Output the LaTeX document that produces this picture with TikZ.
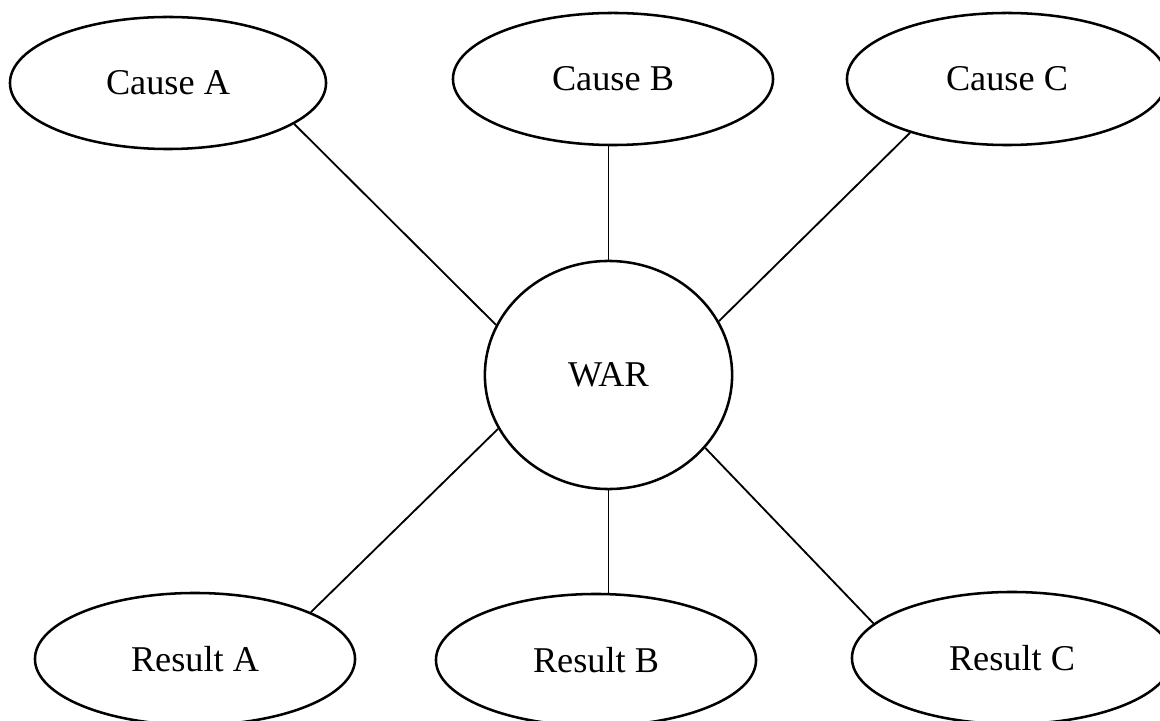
\documentclass[tikz,border=0pt]{standalone}
\usepackage{fontspec}
\setmainfont{Liberation Serif}
\usetikzlibrary{shapes.geometric}

\tikzset{
  oval/.style={draw,ellipse,line width=1.8pt,inner sep=0pt,minimum height=3.3cm,
    font=\fontsize{25.8}{30}\selectfont},
  link/.style={line width=1.3pt}
}

\begin{document}
\begin{tikzpicture}[x=0.025cm,y=-0.025cm]
\useasboundingbox (0,0) rectangle (1160,721);
\foreach \name/\x/\y/\w in {A/168/83/7.9,B/613/79/8,C/1007/79/8}{
      \node[oval,minimum width=\w cm] (Cause-\name) at (\x,\y) {Cause \name};
    }
\foreach \name/\x/\y in {A/195/659,B/596/660,C/1012/658}{
      \node[oval,minimum width=8cm] (Result-\name) at (\x,\y) {Result \name};
    }
\node[oval,minimum width=6.18cm,minimum height=5.7cm] (War) at (608.5,375) {WAR};
\path (Cause-A.-18) edge[link] (War.156)
      (War.north) edge[link] (War.north |- Cause-B.south)
      (Cause-C.-151) edge[link] (War.26)
      (War.206) edge[link] (Result-A.22)
      (War.south) edge[link] (War.south |- Result-B.north)
      (War.-37) edge[link] (Result-C.166);
\end{tikzpicture}
\end{document}
